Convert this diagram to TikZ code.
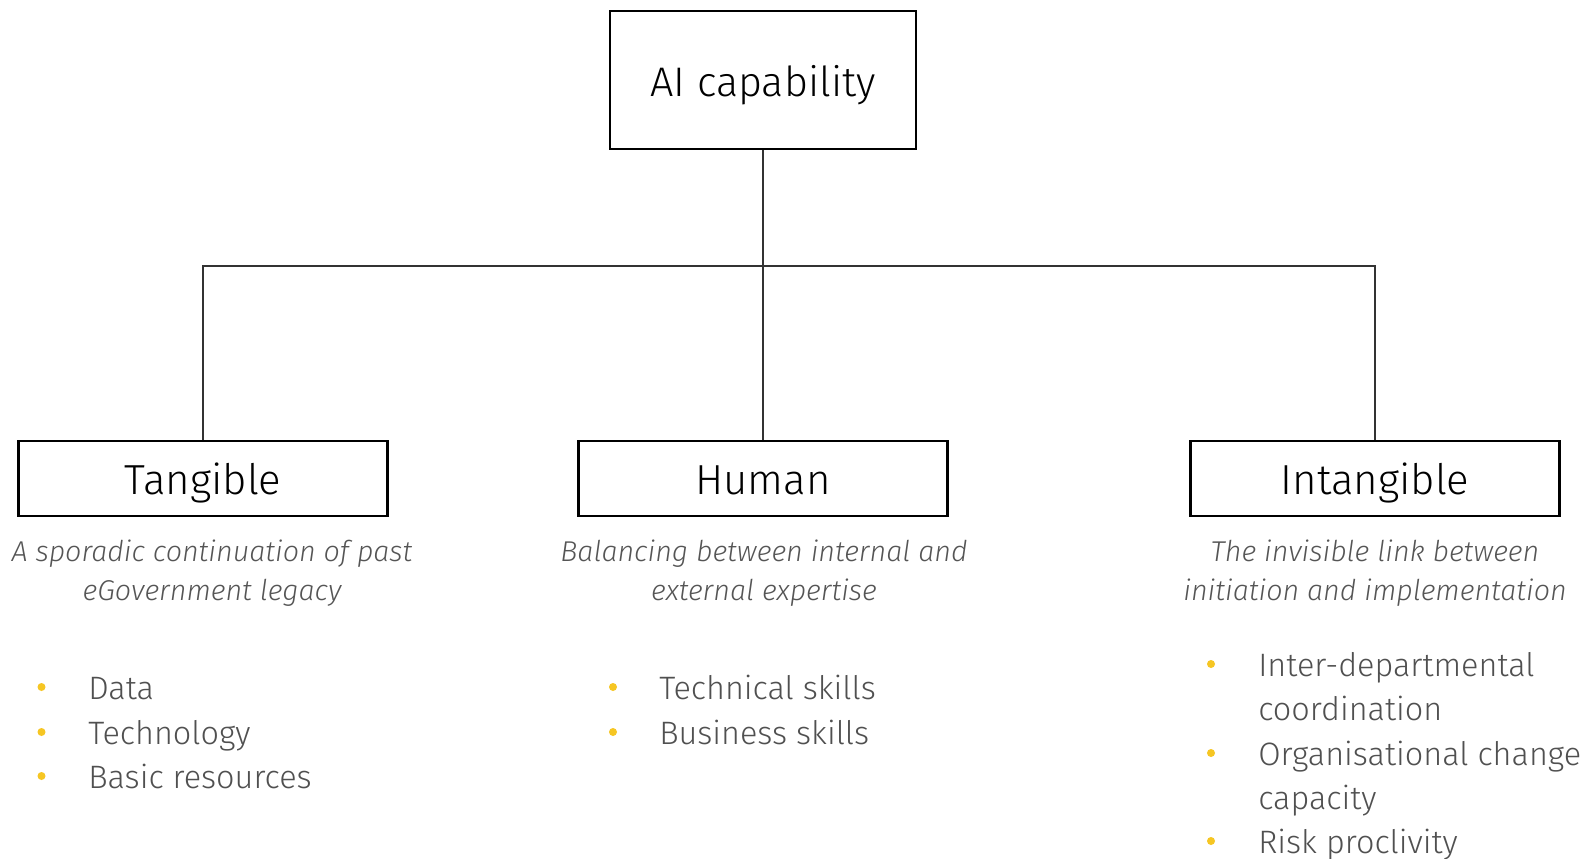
\documentclass[tikz,border=0pt]{standalone}
\usepackage{fontspec}
\setmainfont{Fira Sans Light}
\definecolor{bulletyellow}{HTML}{F6C623}
\definecolor{subgray}{HTML}{555555}
\definecolor{itemgray}{HTML}{505050}
\definecolor{linegray}{HTML}{333333}
\tikzset{
  catbox/.style={draw=black, line width=1.6pt, minimum width=369*0.75pt, minimum height=75*0.75pt, inner sep=0pt, text height=24pt, text depth=0pt, font=\fontsize{31.5}{36}\selectfont},
  topbox/.style={draw=black, line width=1.6pt, minimum width=306*0.75pt, minimum height=138*0.75pt, inner sep=0pt, text height=25.5pt, text depth=0pt, font=\fontsize{31}{36}\selectfont},
  conn/.style={draw=linegray, line width=0.9pt},
  subtitle/.style={align=center, text=subgray, font=\fontsize{21.5}{29}\selectfont\itshape, inner sep=0pt},
  item/.style={anchor=west, text=itemgray, font=\fontsize{24.3}{33}\selectfont, inner sep=0pt, text height=18pt, text depth=0pt},
  dot/.style={circle, fill=bulletyellow, minimum size=8*0.75pt, inner sep=0pt}
}
\begin{document}
\begin{tikzpicture}[x=0.75pt,y=-0.75pt]
\useasboundingbox (0,0) rectangle (1587,859);
\fill[white] (0,0) rectangle (1587,859);
\node[topbox] (ai) at (763,80) {AI capability};
\node[catbox] (tan) at (203,478.5) {Tangible};
\node[catbox] (hum) at (763,478.5) {Human};
\node[catbox] (int) at (1375,478.5) {Intangible};
\coordinate (j) at (763,266);
\draw[conn] (ai.south) -- (j);
\draw[conn] (tan.north) |- (j) -| (int.north);
\draw[conn] (j) -- (hum.north);
\node[subtitle] (stan) at (212,573) {A sporadic continuation of past\\eGovernment legacy};
\node[subtitle] (shum) at (764,573) {Balancing between internal and\\external expertise};
\node[subtitle] (sint) at (1375,573) {The invisible link between\\initiation and implementation};
% Tangible items
\node[dot] (b1) at (41.5,687) {};
\node[item] (t1) at (88,687) {Data};
\node[dot] (b2) at (41.5,732) {};
\node[item] (t2) at (88,732) {Technology};
\node[dot] (b3) at (41.5,776) {};
\node[item] (t3) at (88,776) {Basic resources};
% Human items
\node[dot] (b4) at (613,687) {};
\node[item] (h1) at (659,687) {Technical skills};
\node[dot] (b5) at (613,732) {};
\node[item] (h2) at (659,732) {Business skills};
% Intangible items
\node[dot] (b6) at (1211,664) {};
\node[item] (i1) at (1258,664) {Inter-departmental};
\node[item] (i2) at (1258,708) {coordination};
\node[dot] (b7) at (1211,753) {};
\node[item] (i3) at (1258,753) {Organisational change};
\node[item] (i4) at (1258,797) {capacity};
\node[dot] (b8) at (1211,841) {};
\node[item] (i5) at (1258,841) {Risk proclivity};
\end{tikzpicture}
\end{document}
